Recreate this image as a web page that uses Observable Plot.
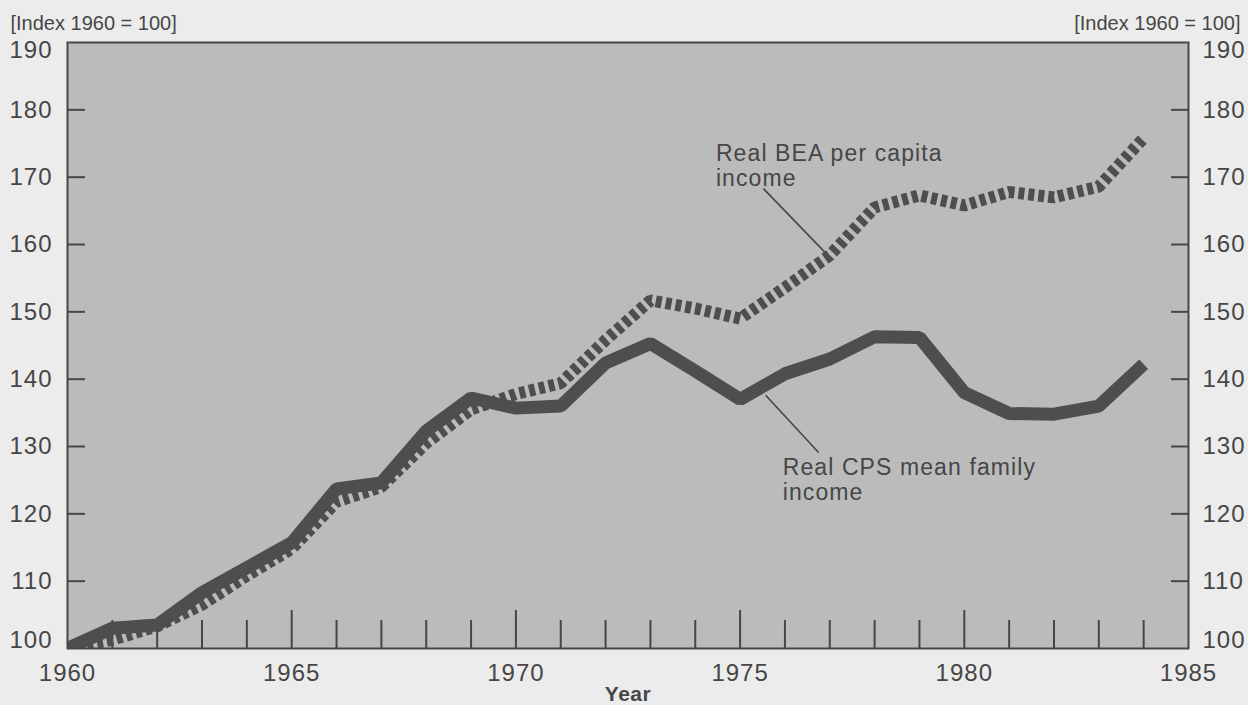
<!DOCTYPE html>
<html><head><meta charset="utf-8">
<script src="https://cdn.jsdelivr.net/npm/d3@7"></script>
<script src="https://cdn.jsdelivr.net/npm/@observablehq/plot@0.6"></script>
<style>
body{margin:0;background:#ececec;}
svg text{letter-spacing:1px;}
svg .hdr text{letter-spacing:0px;}
svg .anno text{letter-spacing:1.1px;}
svg .ttl text{letter-spacing:0.5px;}
</style>
</head><body><div id="chart"></div>
<script>
const years = [1960,1961,1962,1963,1964,1965,1966,1967,1968,1969,1970,1971,1972,1973,1974,1975,1976,1977,1978,1979,1980,1981,1982,1983,1984];
const cpsIncome = [100,103,103.5,108.3,112,115.7,123.7,124.6,132.3,137.2,135.7,136,142.4,145.3,141.2,137,140.8,143,146.3,146.2,138,134.9,134.8,136,142.2];
const beaIncome = [100,101.3,103.3,106.5,110.8,114.8,121.8,124,130.5,135.5,137.8,139.4,145.8,151.7,150.5,149,153.6,158.4,165.5,167.3,165.8,167.8,167,168.6,175.8];

const xLabelTicks = [1960,1965,1970,1975,1980,1985];
const xMajorTicks = [1965,1970,1975,1980];
const xMinorTicks = [1961,1962,1963,1964,1966,1967,1968,1969,1971,1972,1973,1974,1976,1977,1978,1979,1981,1982,1983,1984];
const yInnerTicks = [110,120,130,140,150,160,170,180];
const yTopTick = [190];
const yBottomTick = [100];
const unitLabel = "[Index 1960 = 100]";
const xTitle = "Year";

const annoLabels = [
  {x: 1974.46, y: 175.0, text: "Real BEA per capita\nincome"},
  {x: 1975.95, y: 128.4, text: "Real CPS mean family\nincome"}
];
const annoLeaders = [
  {x1: 1975.52, y1: 168.3, x2: 1976.9, y2: 158.8},
  {x1: 1975.57, y1: 137.6, x2: 1976.75, y2: 129.1}
];

const data = years.map((year, i) => ({year, cps: cpsIncome[i], bea: beaIncome[i]}));
const ink = "#464646";
const lineInk = "#4e4e4e";

const chart = Plot.plot({
  width: 1248, height: 705,
  marginLeft: 67, marginRight: 60, marginTop: 42, marginBottom: 57,
  style: {background: "#ececec", fontFamily: "'Liberation Sans', Arial, Helvetica, sans-serif", color: ink},
  x: {domain: [1960, 1985], label: null},
  y: {domain: [100, 190], label: null},
  marks: [
    Plot.frame({fill: "#bbbbbb"}),
    Plot.axisX({ticks: xMinorTicks, tickSize: -28, fill: "none", stroke: ink, strokeWidth: 2, label: null}),
    Plot.axisX({ticks: xMajorTicks, tickSize: -38, fill: "none", stroke: ink, strokeWidth: 2, label: null}),
    Plot.axisX({ticks: xLabelTicks, tickSize: 0, tickPadding: 15, tickFormat: d => String(d), fontSize: 24, fill: ink, label: null}),
    Plot.axisY({anchor: "left", ticks: yInnerTicks, tickSize: -18, fill: "none", stroke: ink, strokeWidth: 2, label: null}),
    Plot.axisY({anchor: "right", ticks: yInnerTicks, tickSize: -18, fill: "none", stroke: ink, strokeWidth: 2, label: null}),
    Plot.line(data, {x: "year", y: "bea", stroke: lineInk, strokeWidth: 12, strokeDasharray: "6,4", strokeLinecap: "butt", strokeLinejoin: "miter", clip: true}),
    Plot.line(data, {x: "year", y: "cps", stroke: lineInk, strokeWidth: 13, strokeLinejoin: "miter", strokeLinecap: "butt", clip: true}),
    Plot.link(annoLeaders, {x1: "x1", y1: "y1", x2: "x2", y2: "y2", stroke: ink, strokeWidth: 1.6}),
    Plot.text(annoLabels, {x: "x", y: "y", text: "text", textAnchor: "start", lineAnchor: "top", lineHeight: 1.08, fontSize: 23, fill: ink, className: "anno"}),
    Plot.frame({stroke: ink, strokeWidth: 2}),
    Plot.axisY({anchor: "left", ticks: yInnerTicks, tickSize: 0, tickPadding: 15, fontSize: 24, fill: ink, label: null}),
    Plot.axisY({anchor: "left", ticks: yTopTick, tickSize: 0, tickPadding: 15, fontSize: 24, dy: 8, fill: ink, label: null}),
    Plot.axisY({anchor: "left", ticks: yBottomTick, tickSize: 0, tickPadding: 15, fontSize: 24, dy: -8, fill: ink, label: null}),
    Plot.axisY({anchor: "right", ticks: yInnerTicks, tickSize: 0, tickPadding: 14, fontSize: 24, fill: ink, label: null}),
    Plot.axisY({anchor: "right", ticks: yTopTick, tickSize: 0, tickPadding: 14, fontSize: 24, dy: 8, fill: ink, label: null}),
    Plot.axisY({anchor: "right", ticks: yBottomTick, tickSize: 0, tickPadding: 14, fontSize: 24, dy: -8, fill: ink, label: null}),
    Plot.text([unitLabel], {text: d => d, frameAnchor: "top-left", dx: -57, dy: -27, textAnchor: "start", lineAnchor: "top", fontSize: 20, fill: ink, className: "hdr"}),
    Plot.text([unitLabel], {text: d => d, frameAnchor: "top-right", dx: 52, dy: -27, textAnchor: "end", lineAnchor: "top", fontSize: 20, fill: ink, className: "hdr"}),
    Plot.text([xTitle], {text: d => d, frameAnchor: "bottom", dy: 38, lineAnchor: "top", fontSize: 21, fontWeight: "bold", fill: ink, className: "ttl"})
  ]
});
document.getElementById("chart").appendChild(chart);
</script>
</body></html>
